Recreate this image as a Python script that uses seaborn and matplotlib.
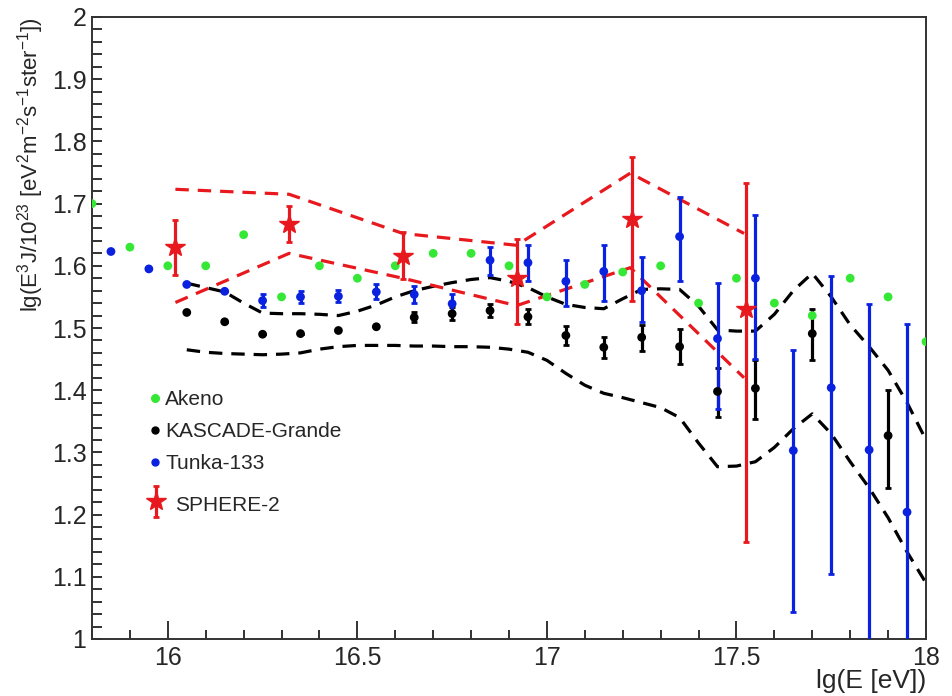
import numpy as np
import pandas as pd
import matplotlib
matplotlib.use("Agg")
import matplotlib.pyplot as plt
import seaborn as sns
from matplotlib.ticker import MultipleLocator
from matplotlib.legend_handler import HandlerErrorbar

# ---------------- data ----------------
akeno_x = [15.8, 15.9, 16.0, 16.1, 16.2, 16.3, 16.4, 16.5, 16.6, 16.7, 16.8, 16.9,
           17.0, 17.1, 17.2, 17.3, 17.4, 17.5, 17.6, 17.7, 17.8, 17.9, 18.0]
akeno_y = [1.700, 1.630, 1.600, 1.600, 1.650, 1.550, 1.600, 1.580, 1.600, 1.620, 1.620, 1.600,
           1.550, 1.570, 1.590, 1.600, 1.540, 1.580, 1.540, 1.520, 1.580, 1.550, 1.478]

kg_x = [16.05, 16.15, 16.25, 16.35, 16.45, 16.55, 16.65, 16.75, 16.85, 16.95,
        17.05, 17.15, 17.25, 17.35, 17.45, 17.55, 17.70, 17.90]
kg_y = [1.525, 1.510, 1.490, 1.491, 1.496, 1.502, 1.517, 1.523, 1.528, 1.518,
        1.488, 1.469, 1.485, 1.470, 1.398, 1.403, 1.491, 1.327]
kg_elo = [0, 0, 0, 0, 0, 0, 0.008, 0.010, 0.010, 0.012,
          0.015, 0.017, 0.022, 0.028, 0.041, 0.050, 0.042, 0.085]
kg_ehi = [0, 0, 0, 0, 0, 0, 0.008, 0.010, 0.010, 0.012,
          0.015, 0.017, 0.020, 0.029, 0.038, 0.046, 0.040, 0.073]

tk_x = [15.85, 15.95, 16.05, 16.15, 16.25, 16.35, 16.45, 16.55, 16.65, 16.75, 16.85,
        16.95, 17.05, 17.15, 17.25, 17.35, 17.45, 17.55, 17.65, 17.75, 17.85, 17.95]
tk_y = [1.623, 1.595, 1.570, 1.559, 1.544, 1.550, 1.551, 1.558, 1.554, 1.539, 1.609,
        1.605, 1.575, 1.591, 1.560, 1.647, 1.483, 1.580, 1.303, 1.404, 1.304, 1.204]
tk_elo = [0, 0, 0, 0, 0.010, 0.010, 0.010, 0.012, 0.014, 0.015, 0.023,
          0.029, 0.039, 0.047, 0.050, 0.071, 0.113, 0.130, 0.260, 0.300, 0.350, 0.350]
tk_ehi = [0, 0, 0, 0, 0.010, 0.010, 0.010, 0.012, 0.014, 0.015, 0.022,
          0.028, 0.034, 0.043, 0.054, 0.063, 0.090, 0.101, 0.161, 0.179, 0.234, 0.302]

sp_x = [16.02, 16.32, 16.62, 16.92, 17.225, 17.525]
sp_y = [1.631, 1.668, 1.615, 1.580, 1.675, 1.530]
sp_elo = [0.046, 0.030, 0.037, 0.073, 0.132, 0.374]
sp_ehi = [0.042, 0.028, 0.039, 0.063, 0.100, 0.203]

sp_band_x = [16.02, 16.32, 16.62, 16.92, 17.22, 17.52]
sp_band_hi = [1.723, 1.715, 1.652, 1.633, 1.749, 1.652]
sp_band_lo = [1.541, 1.620, 1.580, 1.536, 1.597, 1.420]

kg_band_x = [16.05, 16.10, 16.15, 16.20, 16.25, 16.30, 16.35, 16.40, 16.45, 16.50,
             16.55, 16.60, 16.65, 16.70, 16.75, 16.80, 16.85, 16.90, 16.95, 17.00,
             17.05, 17.10, 17.15, 17.20, 17.25, 17.30, 17.35, 17.40, 17.45, 17.50,
             17.55, 17.60, 17.65, 17.70, 17.75, 17.80, 17.85, 17.90, 17.95, 18.00]
kg_band_hi = [1.572, 1.565, 1.558, 1.540, 1.524, 1.523, 1.523, 1.522, 1.520, 1.527,
              1.537, 1.550, 1.560, 1.567, 1.573, 1.578, 1.581, 1.575, 1.565, 1.550,
              1.538, 1.533, 1.531, 1.547, 1.562, 1.563, 1.562, 1.535, 1.497, 1.495,
              1.495, 1.522, 1.560, 1.588, 1.550, 1.505, 1.470, 1.432, 1.380, 1.320]
kg_band_lo = [1.465, 1.461, 1.459, 1.458, 1.457, 1.458, 1.460, 1.466, 1.470, 1.472,
              1.472, 1.472, 1.471, 1.471, 1.470, 1.470, 1.469, 1.466, 1.461, 1.448,
              1.427, 1.408, 1.395, 1.388, 1.380, 1.372, 1.356, 1.315, 1.277, 1.278,
              1.285, 1.308, 1.338, 1.362, 1.330, 1.285, 1.243, 1.195, 1.140, 1.090]

x_ticks = [16, 16.5, 17, 17.5, 18]
x_ticklabels = ["16", "16.5", "17", "17.5", "18"]
y_ticks = [1, 1.1, 1.2, 1.3, 1.4, 1.5, 1.6, 1.7, 1.8, 1.9, 2]
y_ticklabels = ["1", "1.1", "1.2", "1.3", "1.4", "1.5", "1.6", "1.7", "1.8", "1.9", "2"]

# ---------------- style ----------------
sns.set_theme(style="ticks")
plt.rcParams["font.family"] = ["Liberation Sans", "DejaVu Sans"]
plt.rcParams["mathtext.default"] = "regular"

GREEN = "#35e835"
BLACK = "#000000"
BLUE = "#0a22e0"
RED = "#e8191e"

fig = plt.figure(figsize=(9.52, 6.96), dpi=100)
ax = fig.add_axes([92 / 952, 57 / 696, 834 / 952, 622 / 696])

# dashed bands
for xs, ys, col in [(kg_band_x, kg_band_hi, BLACK), (kg_band_x, kg_band_lo, BLACK),
                    (sp_band_x, sp_band_hi, RED), (sp_band_x, sp_band_lo, RED)]:
    df = pd.DataFrame({"x": xs, "y": ys})
    sns.lineplot(data=df, x="x", y="y", ax=ax, color=col, lw=2.3, sort=False,
                 estimator=None, zorder=2)
for ln in ax.get_lines():
    ln.set_dashes((4.2, 2.8))

# error bars
ax.errorbar(kg_x, kg_y, yerr=[kg_elo, kg_ehi], fmt="none", ecolor=BLACK,
            elinewidth=2.3, capsize=2, capthick=2, zorder=3)
ax.errorbar(tk_x, tk_y, yerr=[tk_elo, tk_ehi], fmt="none", ecolor=BLUE,
            elinewidth=2.3, capsize=2, capthick=2, zorder=3)
sp_cont = ax.errorbar(sp_x, sp_y, yerr=[sp_elo, sp_ehi], fmt="*", color=RED,
                      ms=15, mec=RED, elinewidth=2.3, capsize=2, capthick=2, zorder=5)

# points
sns.scatterplot(x=akeno_x, y=akeno_y, ax=ax, color=GREEN, s=40, edgecolor="none", zorder=4)
sns.scatterplot(x=kg_x, y=kg_y, ax=ax, color=BLACK, s=40, edgecolor="none", zorder=4)
sns.scatterplot(x=tk_x, y=tk_y, ax=ax, color=BLUE, s=40, edgecolor="none", zorder=4)

ax.set_xlim(15.8, 18.0)
ax.set_ylim(1.0, 2.0)

ax.set_xticks(x_ticks)
ax.set_xticklabels(x_ticklabels)
ax.set_yticks(y_ticks)
ax.set_yticklabels(y_ticklabels)
ax.xaxis.set_minor_locator(MultipleLocator(0.1))
ax.yaxis.set_minor_locator(MultipleLocator(0.02))
ax.tick_params(axis="both", which="both", direction="in", labelsize=18,
               color="#222222", width=1.3, top=False, right=False)
ax.tick_params(axis="x", which="major", length=13, pad=5)
ax.tick_params(axis="x", which="minor", length=6.5)
ax.tick_params(axis="y", which="major", length=7, pad=4)
ax.tick_params(axis="y", which="minor", length=7)
for sp in ax.spines.values():
    sp.set_visible(True)
    sp.set_linewidth(1.4)
    sp.set_color("#333333")

ax.set_xlabel("lg(E [eV])", loc="right", fontsize=19, labelpad=-1)
ax.set_ylabel(r"lg(E$^{3}$J/10$^{23}$ [eV$^{2}$m$^{-2}$s$^{-1}$ster$^{-1}$])",
              loc="top", fontsize=16, labelpad=4)

# legends
h_ak = plt.Line2D([], [], ls="none", marker="o", color=GREEN, ms=5.5)
h_kg = plt.Line2D([], [], ls="none", marker="o", color=BLACK, ms=5)
h_tk = plt.Line2D([], [], ls="none", marker="o", color=BLUE, ms=5)
leg1 = ax.legend([h_ak, h_kg, h_tk], ["Akeno", "KASCADE-Grande", "Tunka-133"],
                 loc="upper left", bbox_to_anchor=(0.058, 0.4136), frameon=False,
                 fontsize=15, handlelength=0.6, handletextpad=0.2, labelspacing=0.62,
                 borderaxespad=0)
ax.add_artist(leg1)
ax.legend([sp_cont], ["SPHERE-2"], loc="upper left", bbox_to_anchor=(0.056, 0.25),
          frameon=False, fontsize=15, handlelength=0.9, handletextpad=0.45,
          handleheight=1.4, borderaxespad=0,
          handler_map={type(sp_cont): HandlerErrorbar(yerr_size=0.75)})

fig.savefig("out.png", dpi=100)
